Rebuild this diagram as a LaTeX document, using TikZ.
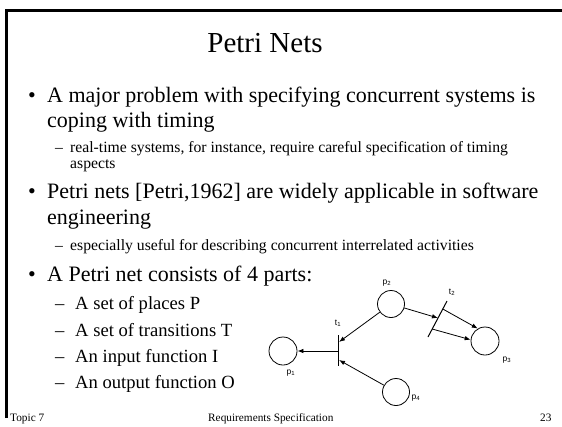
\documentclass[tikz,border=0pt]{standalone}
\usepackage{fontspec}
\setmainfont{Liberation Serif}
\newfontfamily\labfont{Liberation Sans}
\usetikzlibrary{arrows.meta}
\begin{document}
\begin{tikzpicture}[x=1pt,y=-1pt,
  txt/.style={anchor=base west, inner sep=0pt, font=\fontsize{22}{26}\selectfont},
  subtxt/.style={anchor=base west, inner sep=0pt, font=\fontsize{15.7}{17}\selectfont},
  itemtxt/.style={anchor=base west, inner sep=0pt, font=\fontsize{18.6}{22}\selectfont},
  foot/.style={anchor=base west, inner sep=0pt, font=\fontsize{11.3}{13}\selectfont},
  titletxt/.style={anchor=base, inner sep=0pt, font=\fontsize{29}{34}\selectfont},
  place/.style={circle, draw, minimum size=28pt, inner sep=0pt, line width=0.8pt},
  bar/.style={line width=1pt},
  arr/.style={-{Latex[length=6pt,width=4.5pt]}, line width=0.8pt},
  lab/.style={inner sep=0pt, font=\labfont\fontsize{8.5}{9}\selectfont}]
\useasboundingbox (0,0) rectangle (562,426);
\fill[white] (0,0) rectangle (562,426);
\draw[line width=3pt] (6.5,418) -- (6.5,10.5) -- (562,10.5);
\node[titletxt] (title) at (265,52) {Petri Nets};
% bullet 1
\node[txt] (d1) at (28,102) {•};
\node[txt] (b1a) at (47,102) {A major problem with specifying concurrent systems is};
\node[txt] (b1b) at (47,127) {coping with timing};
\node[subtxt] (sd1) at (55,152) {–};
\node[subtxt] (s1a) at (70,152) {real-time systems, for instance, require careful specification of timing};
\node[subtxt] (s1b) at (70,168) {aspects};
% bullet 2
\node[txt] (d2) at (28,198) {•};
\node[txt] (b2a) at (47,198) {Petri nets [Petri,1962] are widely applicable in software};
\node[txt] (b2b) at (47,224) {engineering};
\node[subtxt] (sd2) at (55,250) {–};
\node[subtxt] (s2a) at (70,250) {especially useful for describing concurrent interrelated activities};
% bullet 3
\node[txt] (d3) at (28,281) {•};
\node[txt] (b3a) at (47,281) {A Petri net consists of 4 parts:};
\node[itemtxt] (i1d) at (55,309) {–};
\node[itemtxt] (i1) at (75,309) {A set of places P};
\node[itemtxt] (i2d) at (55,336) {–};
\node[itemtxt] (i2) at (75,336) {A set of transitions T};
\node[itemtxt] (i3d) at (55,362) {–};
\node[itemtxt] (i3) at (75,362) {An input function I};
\node[itemtxt] (i4d) at (55,388) {–};
\node[itemtxt] (i4) at (75,388) {An output function O};
% footer
\node[foot] (f1) at (10,421) {Topic 7};
\node[foot] (f2) at (208,421) {Requirements Specification};
\node[foot] (f3) at (540,421) {23};
% Petri net
\node[place] (p1) at (283,351) {};
\node[place, minimum size=27pt] (p2) at (391,304) {};
\node[place] (p3) at (485,341) {};
\node[place, minimum size=27pt] (p4) at (396,392) {};
\node[lab] (lp1) at (291,373) {p\textsubscript{1}};
\node[lab] (lp2) at (387,283) {p\textsubscript{2}};
\node[lab] (lp3) at (507,360) {p\textsubscript{3}};
\node[lab] (lp4) at (416,398) {p\textsubscript{4}};
\node[lab] (lt1) at (338,323) {t\textsubscript{1}};
\node[lab] (lt2) at (452,292) {t\textsubscript{2}};
\coordinate (t1top) at (338,335);
\coordinate (t1bot) at (338,366);
\coordinate (t1in1) at (339,342);
\coordinate (t1in2) at (339,360);
\coordinate (t1out) at (338,351);
\draw[bar] (t1top) -- (t1bot);
\coordinate (t2top) at (447,301);
\coordinate (t2bot) at (428,337);
\coordinate (t2in) at (438,318);
\coordinate (t2outA) at (442.8,309);
\coordinate (t2outB) at (432.2,329);
\draw[bar] (t2top) -- (t2bot);
\draw[arr] (p2) -- (t1in1);
\draw[arr] (p4) -- (t1in2);
\draw[arr] (t1out) -- (p1);
\draw[arr] (p2) -- (t2in);
\draw[arr] (t2outA) -- (p3.120);
\draw[arr] (t2outB) -- (p3.175);
\end{tikzpicture}
\end{document}
